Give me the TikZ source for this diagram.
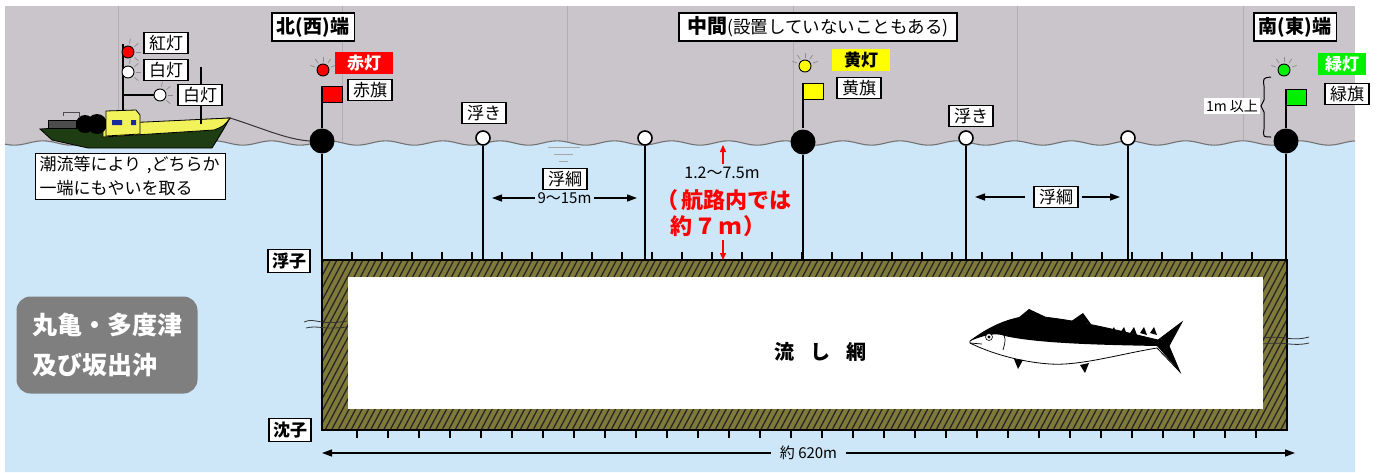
\documentclass[tikz,border=0pt]{standalone}
\usepackage{fontspec}
\setmainfont{Noto Sans CJK JP}
\usepackage{tikz}
\usetikzlibrary{positioning, arrows.meta}
\definecolor{sky}       {HTML}{C9C5CA}
\definecolor{skyline}   {HTML}{B3AEB4}
\definecolor{sea}       {HTML}{CDE6F8}
\definecolor{netolive}  {HTML}{7F7A3A}
\definecolor{hullgreen} {HTML}{1F3D12}
\definecolor{hullyellow}{HTML}{F2F25A}
\definecolor{cabinblue} {HTML}{1A2A9A}
\definecolor{lampred}   {HTML}{FF0000}
\definecolor{lampyellow}{HTML}{FFFF00}
\definecolor{lampgreen} {HTML}{00F000}
\definecolor{areagray}  {HTML}{7F7F7F}

\begin{document}
\begin{tikzpicture}[x=1pt, y=-1pt,
  tag/.style={draw, fill=white, line width=1.1pt, inner xsep=5pt, inner ysep=1pt,
    minimum height=21pt, font=\fontsize{17}{17}\selectfont},
  endtag/.style={fill=white, minimum height=28pt, inner xsep=5pt,
    inner ysep=1pt, font=\fontsize{19}{19}\selectfont\bfseries},
  frame/.style={line width=1.6pt},
  cordtag/.style={tag, inner xsep=4pt, minimum height=23pt, font=\fontsize{17}{17}\selectfont\bfseries},
  lampbox/.style={inner xsep=3pt, minimum height=22pt, text=white,
    font=\fontsize{17}{17}\selectfont\bfseries},
  lamp/.style={circle, draw, line width=0.9pt, minimum size=12pt, inner sep=0pt},
  ray/.style={black!45, line width=0.7pt},
  buoy/.style={circle, fill=black, minimum size=25pt, inner sep=0pt},
  float/.style={circle, draw, fill=white, line width=1.6pt, minimum size=14pt, inner sep=0pt},
  rope/.style={line width=1.5pt},
  flag/.style={draw, line width=0.8pt},
  hatch/.style={line width=1.3pt, black!85},
  span/.style={line width=1.3pt, {Triangle[length=10pt,width=7pt]}-{Triangle[length=10pt,width=7pt]}},
  oneway/.style={line width=1.3pt, -{Triangle[length=10pt,width=7pt]}},
  depthmark/.style={lampred, line width=1.3pt, -{Triangle[length=7pt,width=6pt]}},
  routetext/.style={text=lampred, font=\fontsize{22}{22}\selectfont\bfseries},
  areabox/.style={fill=areagray, rounded corners=14pt, minimum width=181pt, minimum height=97pt,
    text=white, align=left, font=\fontsize{25}{40}\selectfont\bfseries}
]
\useasboundingbox (0,0) rectangle (1379,472);

% sky, sea and waterline
\fill[white] (0,0) rectangle (1379,472);
\fill[sky] (5,6) rectangle (1355,150);
\foreach \vx in {118,342,567,793,1017,1243}
  \draw[skyline, line width=1pt] (\vx,6) -- (\vx,142);
\fill[sea] plot[domain=5:1355, samples=260] (\x,{143+2.2*sin(6.3*\x)})
  -- (1355,472) -- (5,472) -- cycle;
\draw[line width=1.1pt, black!55] plot[domain=5:1355, samples=260] (\x,{143+2.2*sin(6.3*\x)});
\draw[black!35, line width=0.8pt] (548,147) -- (580,147) (554,154) -- (573,154) (559,161) -- (568,161);

% drift net
\coordinate (netNW) at (322,260);
\coordinate (netSE) at (1287,430);
\fill[netolive] (netNW) rectangle (netSE);
\begin{scope}
  \clip (netNW) rectangle (netSE);
  \foreach \hx in {220,226.5,...,1300}
    \draw[hatch] (\hx,432) -- ++(92,-174);
\end{scope}
\fill[white] (348,277) rectangle (1263,409);
\draw[line width=1.3pt] (netNW) rectangle (netSE);
\foreach \tx in {352,382,...,1262}
  \draw[line width=1.1pt] (\tx,260) -- ++(0,-8);
\foreach \tx in {357,388,...,1262}
  \draw[line width=1.1pt] (\tx,430) -- ++(0,8);
\node[font=\fontsize{20}{20}\selectfont\bfseries] (netname) at (820,352) {流\hspace{16pt}し\hspace{16pt}網};
\node[cordtag] (ukiko) at (289,261) {浮子};
\node[cordtag] (chinshi) at (290,430) {沈子};

% ropes through the side panels
\draw[line width=0.8pt, black!80] (304,322) .. controls (315,317) and (318,326) .. (347,321)
  (306,328) .. controls (318,325) and (322,330) .. (347,327);
\draw[line width=0.8pt, black!80] (1263,338) .. controls (1285,335) and (1290,342) .. (1309,337)
  (1263,344) .. controls (1285,341) and (1292,347) .. (1309,343);

% fish
\filldraw[fill=white, line width=0.8pt] (970,341) .. controls (985,330) and (1005,318) .. (1030,316)
  .. controls (1070,318) and (1120,331) .. (1158,340) -- (1182,322) -- (1169,346)
  -- (1180,372) -- (1157,348) .. controls (1120,354) and (1080,366) .. (1050,364)
  .. controls (1020,362) and (990,353) .. (970,343) -- cycle;
\fill (970,341) .. controls (985,330) and (1005,318) .. (1030,316)
  .. controls (1070,318) and (1120,331) .. (1158,340) -- (1182,322) -- (1169,346)
  -- (1180,372) -- (1157,346) .. controls (1110,345) and (1040,344) .. (1005,336)
  .. controls (995,332) and (982,336) .. (970,341) -- cycle;
\fill (1018,318) -- (1029,309) -- (1046,317) -- cycle;
\fill (1070,322) -- (1083,313) -- (1091,324) -- cycle;
\foreach \fx in {1100,1110,...,1150}
  \fill (\fx,333) -- (\fx+4,327) -- (\fx+7,335) -- cycle;
\fill (1014,359) -- (1018,369) -- (1023,360) -- cycle;
\fill (1080,365) -- (1085,373) -- (1089,363) -- cycle;
\filldraw[fill=white, line width=0.6pt] (989,337) circle (3.5);
\fill (989,337) circle (1.6);
\draw[line width=0.7pt] (970,343) -- (982,344) (1002,332) .. controls (1006,339) .. (1003,350);

% buoys, floats, poles and flags
\node[buoy] (nbuoy) at (322,141) {};
\node[buoy] (mbuoy) at (803,142) {};
\node[buoy] (sbuoy) at (1286,141) {};
\node[float] (float1) at (483,138) {};
\node[float] (float2) at (645,138) {};
\node[float] (float3) at (966,138) {};
\node[float] (float4) at (1128,138) {};
\foreach \b in {nbuoy,mbuoy,sbuoy,float1,float2,float3,float4}
  \draw[rope] (\b) -- (\b |- netNW);

\coordinate (nflag) at (322,86);
\coordinate (mflag) at (803,83);
\coordinate (sflag) at (1286,89);
\foreach \f/\col in {nflag/lampred, mflag/lampyellow, sflag/lampgreen} {
  \draw[rope] (\f) -- (\f |- nbuoy.north);
  \filldraw[flag, fill=\col] (\f) rectangle ++(20,16);
}

\node[lamp, fill=lampred]    (nlamp) at (323,70) {};
\node[lamp, fill=lampyellow] (mlamp) at (805,66) {};
\node[lamp, fill=lampgreen]  (slamp) at (1284,70) {};
\foreach \l in {nlamp,mlamp,slamp}
  \foreach \a in {20,55,90,125,160}
    \draw[ray] (\l.\a) ++(\a:2pt) -- ++(\a:5pt);

% labels at the three ends
\node[endtag] (ntitle) at (313,27) {北(西)端};
\node[endtag, inner xsep=8pt, font=\fontsize{17.5}{17.5}\selectfont] (mtitle) at (818,27)
  {{\fontsize{20}{20}\selectfont\bfseries 中間}(設置していないこともある)};
\node[endtag] (stitle) at (1295,27) {南(東)端};
\foreach \t in {ntitle,mtitle,stitle}
  \draw[frame] (\t.south west) rectangle (\t.north east);
\node[lampbox, fill=lampred, minimum width=58pt]   (nlampl) at (364,63) {赤灯};
\node[lampbox, fill=lampyellow, text=black, minimum width=58pt] (mlampl) at (861,60) {黄灯};
\node[lampbox, fill=lampgreen, minimum width=48pt] (slampl) at (1342,64) {緑灯};
\node[tag] (nflagl) at (370,90) {赤旗};
\node[tag] (mflagl) at (859,88) {黄旗};
\node[tag] (sflagl) at (1347,94) {緑旗};
\node[tag] (float1l) at (484,113) {浮き};
\node[tag] (float3l) at (971,116) {浮き};
\node[fill=white, inner sep=2pt, font=\fontsize{14}{14}\selectfont] (height) at (1232,106) {1m 以上};
\draw[line width=1pt] (1271,77) .. controls (1263,78) .. (1264,86) -- (1264,100)
  -- (1261,106) -- (1264,112) -- (1264,129) .. controls (1263,137) .. (1271,137);

% float rope spacing
\node[tag] (rope1) at (565,179) {浮綱};
\coordinate (span1w) at (492,198);
\coordinate (span1e) at (637,198);
\draw[span] (span1w) -- (span1e)
  node[midway, fill=sea, inner xsep=3pt, inner ysep=1pt, font=\fontsize{15}{15}\selectfont] (span1) {9～15m};
\node[tag] (rope2) at (1056,197) {浮綱};
\coordinate (span2w) at (975,197);
\coordinate (span2e) at (1120,197);
\draw[oneway] ([xshift=-8pt]rope2.west) -- (span2w);
\draw[oneway] ([xshift=3pt]rope2.east) -- (span2e);

% depth of the net
\coordinate (surf) at (723,145);
\node[font=\fontsize{16}{16}\selectfont] (depth) at (722,173) {1.2～7.5m};
\node[routetext] (route1) at (724,200) {（\hspace{4pt}航路内では};
\node[routetext] (route2) at (718,226) {約\hspace{3pt}７\hspace{3pt}ｍ\hspace{2pt}）};
\draw[depthmark] (depth.north -| surf) -- (surf);
\draw[depthmark] (route2.south -| surf) -- (surf |- netNW);

% net length
\coordinate (lenw) at (322,453);
\coordinate (lene) at (1295,453);
\draw[span] (lenw) -- (lene)
  node[pos=0.5, fill=sea, inner xsep=9pt, inner ysep=1pt, font=\fontsize{15}{15}\selectfont] (netlen) {約 620m};

% area box
\node[areabox] (area) at (107,345) {丸亀・多度津\\及び坂出沖};

% boat
\coordinate (bow) at (230,118);
\filldraw[fill=hullgreen, line width=0.8pt] (40,129) -- (bow) .. controls (222,132) .. (212,148)
  -- (88,148) -- (52,140) -- cycle;
\filldraw[fill=hullyellow, line width=0.8pt] (103,124) -- (bow) .. controls (224,126) .. (214,130)
  -- (103,137) -- cycle;
\filldraw[fill=black!70, line width=0.8pt] (48,120) rectangle (76,128);
\fill (85,124) circle (9) (97,124) circle (10);
\draw[line width=1pt, black!70] (63,116) -- (63,112) -- (79,112) -- (79,118);
\filldraw[fill=hullyellow, line width=0.8pt] (106,136) -- (106,111) -- (136,110) -- (140,115) -- (140,134) -- cycle;
\fill[cabinblue] (112,120) rectangle (122,125) (131,120) rectangle (136,125);
\draw[line width=1.3pt] (123,110) -- (123,44) (123,95) -- (155,95);
\draw[line width=1.3pt] (201,67) -- (201,124);
\node[lamp, fill=lampred] (blamp1) at (128,52) {};
\node[lamp, fill=white]   (blamp2) at (128,72) {};
\node[lamp, fill=white]   (blamp3) at (160,95) {};
\foreach \l in {blamp1,blamp2,blamp3}
  \foreach \a in {-40,0,40,80}
    \draw[ray] (\l.\a) ++(\a:2pt) -- ++(\a:5pt);
\node[tag] (blamp1l) at (166,43) {紅灯};
\node[tag] (blamp2l) at (166,70) {白灯};
\node[tag] (blamp3l) at (200,95) {白灯};
\draw[line width=1pt, black!80] (bow) .. controls (262,128) and (285,139) .. (nbuoy.west);
\node[tag, anchor=north west, align=left, text width=182pt, inner xsep=4pt, inner ysep=3pt,
  font=\fontsize{17}{24}\selectfont] (mooring) at (35,153)
  {潮流等により ,どちらか\\一端にもやいを取る};
\end{tikzpicture}
\end{document}
